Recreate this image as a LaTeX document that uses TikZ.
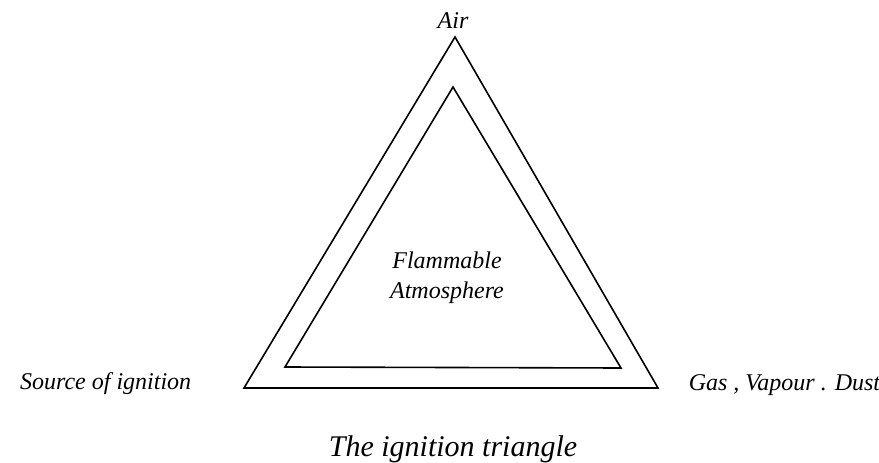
\documentclass[tikz,border=0pt]{standalone}
\usepackage{fontspec}
\setmainfont{Liberation Serif}
\begin{document}
\begin{tikzpicture}[x=1pt,y=-1pt,line width=1.6pt,
  lbl/.style={font=\fontsize{24}{30}\selectfont\itshape,inner sep=0pt}]
  \useasboundingbox (0,0) rectangle (879,463);
  \coordinate (O1) at (455,37); \coordinate (O2) at (244,388);
  \coordinate (O3) at (658,388);
  \coordinate (I1) at (453,87); \coordinate (I2) at (285,367);
  \coordinate (I3) at (621,368);
  \draw (O1) -- (O2) -- (O3) -- cycle;
  \draw (I1) -- (I2) -- (I3) -- cycle;
  \node[lbl, anchor=base] (air) at (453,28) {Air};
  \node[lbl, anchor=base east] (src) at (192,389) {Source of ignition};
  \node[lbl, anchor=base west] (gas) at (688,390) {Gas , Vapour . Dust};
  \node[lbl, align=center] (fa) at (447,278) {Flammable\\Atmosphere};
  \node[lbl, font=\fontsize{30}{36}\selectfont\itshape, anchor=base]
    (cap) at (453,456) {The ignition triangle};
\end{tikzpicture}
\end{document}
